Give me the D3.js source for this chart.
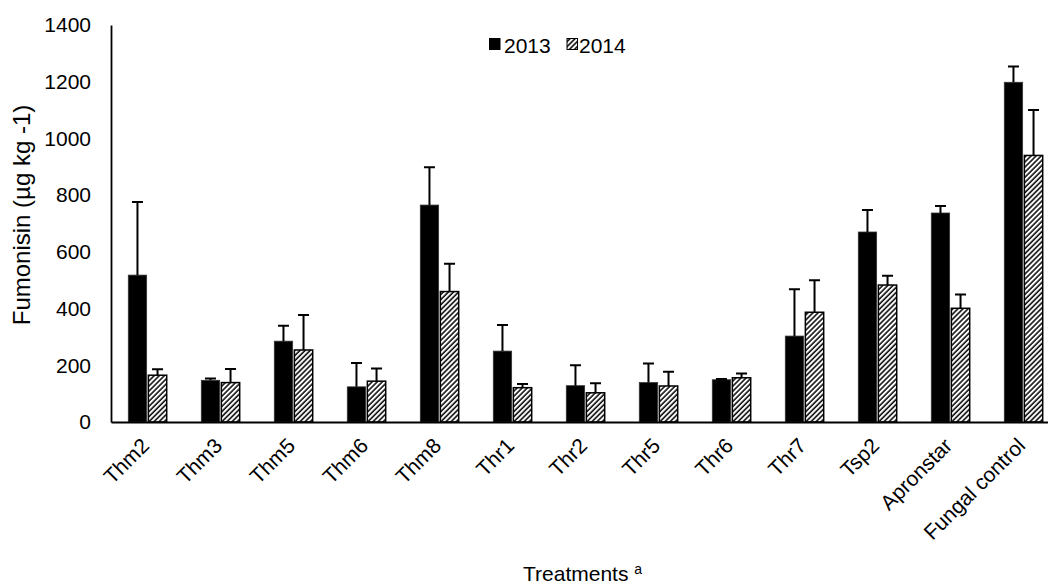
<!DOCTYPE html>
<html>
<head>
<meta charset="utf-8">
<script src="https://cdn.jsdelivr.net/npm/d3@7"></script>
<style>
  html, body { margin: 0; padding: 0; background: #fff; }
  text { font-family: "Liberation Sans", Arial, sans-serif; fill: #000; }
</style>
</head>
<body>
<svg id="chart" width="1048" height="584"></svg>
<script>
const categories = ["Thm2","Thm3","Thm5","Thm6","Thm8","Thr1","Thr2","Thr5","Thr6","Thr7","Tsp2","Apronstar","Fungal control"];
const series = ["2013","2014"];
const values2013 = [518, 147, 285, 124, 765, 250, 128, 139, 149, 303, 670, 737, 1198];
const errTop2013 = [776, 153, 339, 208, 898, 342, 200, 206, 152, 468, 748, 762, 1254];
const values2014 = [165, 139, 254, 144, 460, 121, 103, 127, 156, 387, 483, 401, 940];
const errTop2014 = [186, 187, 377, 189, 558, 134, 137, 177, 171, 500, 516, 450, 1100];
const yTicks = [0, 200, 400, 600, 800, 1000, 1200, 1400];

(function () {
const svg = d3.select("#chart");
const mLeft = 111, mTop = 25, mBottom = 422;
const band = 73;
const mRight = mLeft + band * categories.length;
const FONT = "Liberation Sans, Arial, sans-serif";

const defs = svg.append("defs");
const pat = defs.append("pattern")
  .attr("id", "hatch")
  .attr("patternUnits", "userSpaceOnUse")
  .attr("width", 3.6).attr("height", 3.6)
  .attr("patternTransform", "rotate(45)");
pat.append("rect").attr("width", 3.6).attr("height", 3.6).attr("fill", "#fff");
pat.append("line").attr("x1", 1).attr("y1", 0).attr("x2", 1).attr("y2", 3.6)
  .attr("stroke", "#000").attr("stroke-width", 1.5);

const x = d3.scaleBand().domain(categories).range([mLeft, mRight]).paddingInner(0).paddingOuter(0);
const xs = d3.scaleBand().domain(series).range([17.3, 55.7]).paddingInner(0.086);
const y = d3.scaleLinear().domain([0, 1400]).range([mBottom, mTop]);

// y axis
const yAxis = d3.axisLeft(y).tickValues(yTicks).tickSize(0).tickPadding(20).tickFormat(d3.format("d"));
const gy = svg.append("g").attr("transform", `translate(${mLeft},0)`).call(yAxis);
gy.select(".domain").attr("stroke", "#000").attr("stroke-width", 1.8);
gy.selectAll("text").style("font-size", "21px").attr("font-family", FONT);

const data = categories.map((c, i) => ({
  cat: c,
  bars: [
    {s: "2013", v: values2013[i], e: errTop2013[i]},
    {s: "2014", v: values2014[i], e: errTop2014[i]}
  ]
}));

const groups = svg.append("g").selectAll("g").data(data).join("g")
  .attr("transform", d => `translate(${x(d.cat)},0)`);

groups.selectAll("rect").data(d => d.bars).join("rect")
  .attr("x", d => xs(d.s))
  .attr("y", d => y(d.v))
  .attr("width", xs.bandwidth())
  .attr("height", d => y(0) - y(d.v))
  .attr("fill", d => d.s === "2013" ? "#000" : "url(#hatch)")
  .attr("stroke", d => d.s === "2013" ? "#333" : "#000")
  .attr("stroke-width", d => d.s === "2013" ? 0.8 : 1.5);

// error bars (upper only)
groups.selectAll("path.err").data(d => d.bars).join("path")
  .attr("class", "err")
  .attr("fill", "none").attr("stroke", "#000").attr("stroke-width", 2)
  .attr("d", d => {
    const cx = xs(d.s) + xs.bandwidth() / 2;
    return `M${cx},${y(d.v)}V${y(d.e)}M${cx - 5.5},${y(d.e)}H${cx + 5.5}`;
  });

// x axis
const xAxis = d3.axisBottom(x).tickSize(0).tickFormat(d => d);
const gx = svg.append("g").attr("transform", `translate(0,${mBottom})`).call(xAxis);
gx.select(".domain").attr("stroke", "#000").attr("stroke-width", 1.8);
gx.selectAll("text")
  .style("font-size", "21px")
  .attr("font-family", FONT)
  .attr("text-anchor", "end")
  .attr("dy", "0")
  .attr("y", 0)
  .attr("transform", "translate(3,25) rotate(-45)");

// axis titles
svg.append("text")
  .attr("transform", `translate(30,215) rotate(-90)`)
  .attr("text-anchor", "middle")
  .style("font-size", "24px")
  .text("Fumonisin (µg kg -1)");

const xt = svg.append("text")
  .attr("x", 523).attr("y", 581)
  .attr("text-anchor", "start")
  .style("font-size", "21px");
xt.append("tspan").text("Treatments ");
xt.append("tspan").attr("dy", -7).style("font-size", "14px").text("a");

// legend
const legendX = [489, 566.5];
const legend = svg.append("g");
const li = legend.selectAll("g").data(series).join("g")
  .attr("transform", (d, i) => `translate(${legendX[i]},0)`);
li.append("rect").attr("x", 0.5).attr("y", 38.5).attr("width", 10.5).attr("height", 11)
  .attr("fill", d => d === "2013" ? "#000" : "url(#hatch)")
  .attr("stroke", "#000").attr("stroke-width", 1);
li.append("text").attr("x", (d, i) => i === 0 ? 15 : 12.5).attr("y", 52.5).style("font-size", "21px").text(d => d);
})();
</script>
</body>
</html>
